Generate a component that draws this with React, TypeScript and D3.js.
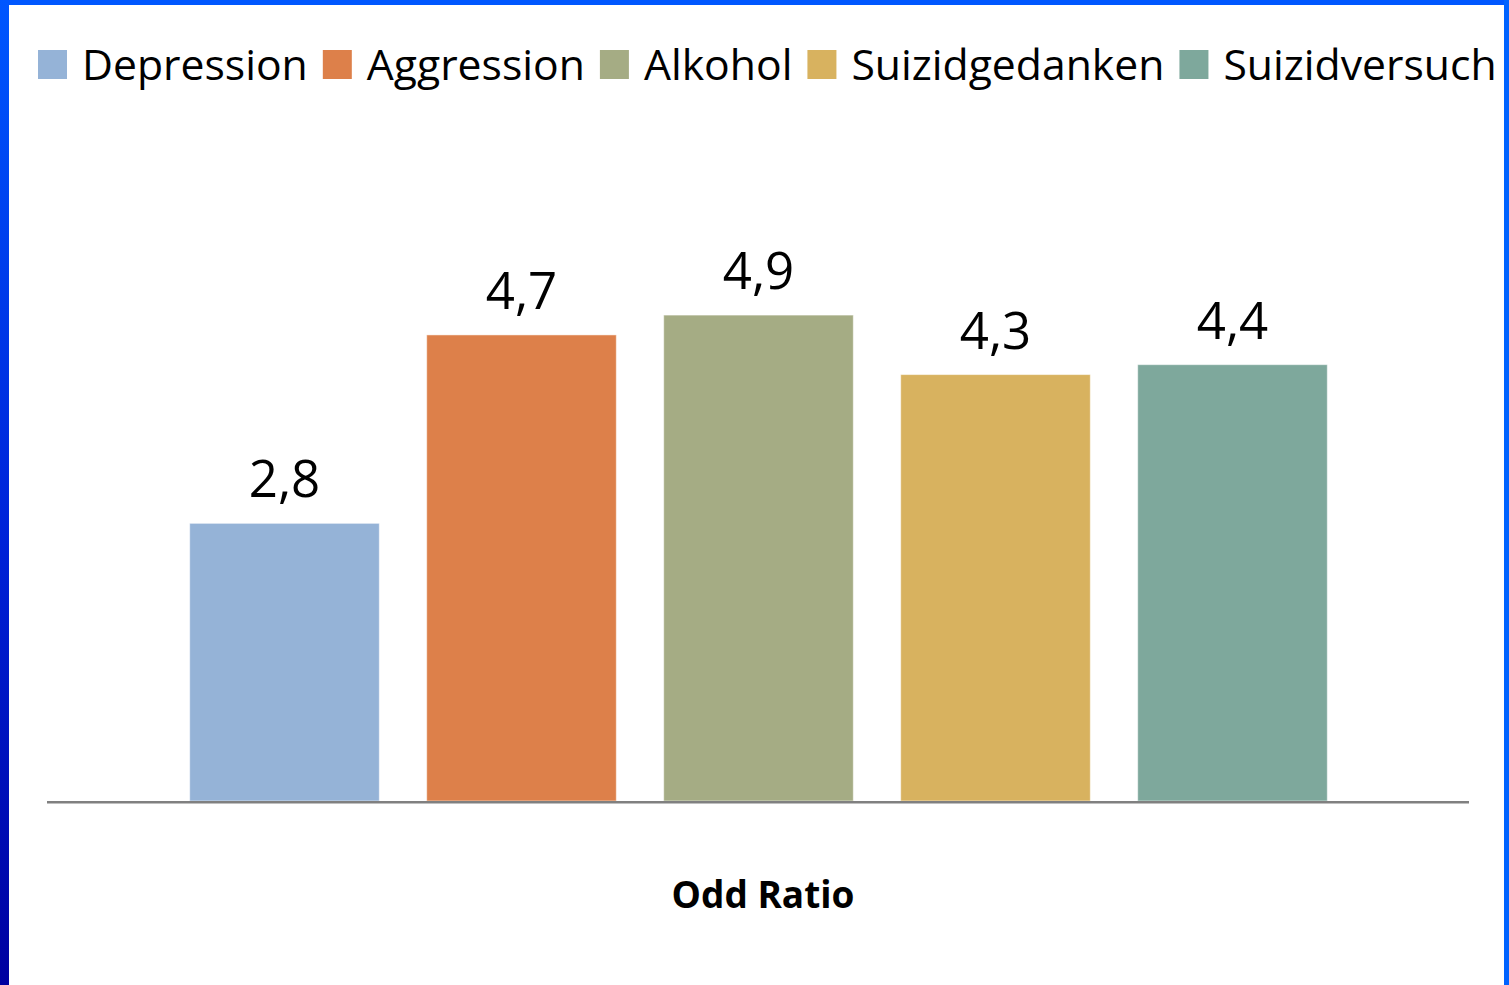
import React, { useRef, useEffect } from 'react';
import * as d3 from 'd3';

// Daten
const series = ['Depression', 'Aggression', 'Alkohol', 'Suizidgedanken', 'Suizidversuch'];
const values = [2.8, 4.7, 4.9, 4.3, 4.4];
const colors = ['#95b3d7', '#dd804a', '#a5ac84', '#d8b25f', '#7ea89c'];
const categoryLabel = 'Odd Ratio';

const W = 1509;
const H = 985;
const FONT = '"Open Sans", "Noto Sans", sans-serif';

const de = d3.formatLocale({ decimal: ',', thousands: '.', grouping: [3], currency: ['', ' €'] });
const fmt = de.format('.1f');

export default function App() {
  const svgRef = useRef<SVGSVGElement>(null);

  useEffect(() => {
    const svg = d3.select(svgRef.current);
    svg.selectAll('*').remove();

    // Rahmen (blauer Verlauf links)
    const defs = svg.append('defs');
    const grad = defs.append('linearGradient')
      .attr('id', 'leftEdge')
      .attr('x1', 0).attr('y1', 0).attr('x2', 0).attr('y2', 1);
    grad.append('stop').attr('offset', '0%').attr('stop-color', '#0057ff');
    grad.append('stop').attr('offset', '55%').attr('stop-color', '#0022d8');
    grad.append('stop').attr('offset', '100%').attr('stop-color', '#0000a0');

    svg.append('rect').attr('width', W).attr('height', H).attr('fill', '#ffffff');
    svg.append('rect').attr('x', 0).attr('y', 0).attr('width', W).attr('height', 5).attr('fill', '#0057ff');
    svg.append('rect').attr('x', W - 5).attr('y', 0).attr('width', 5).attr('height', H).attr('fill', '#0063ff');
    svg.append('rect').attr('x', 0).attr('y', 0).attr('width', 9).attr('height', H).attr('fill', 'url(#leftEdge)');

    const axisY = 801;
    const x = d3.scaleBand<string>()
      .domain(series)
      .range([166, 1351])
      .paddingInner(0.2)
      .paddingOuter(0.1);
    const y = d3.scaleLinear().domain([0, 6]).range([axisY, 206]);

    // Balken
    svg.selectAll('.bar')
      .data(series)
      .join('rect')
      .attr('class', 'bar')
      .attr('x', d => x(d)!)
      .attr('y', (d, i) => y(values[i]))
      .attr('width', x.bandwidth())
      .attr('height', (d, i) => axisY - y(values[i]))
      .attr('fill', (d, i) => colors[i])
      .attr('stroke', '#ffffff')
      .attr('stroke-opacity', 0.5)
      .attr('stroke-width', 1);

    // Werte
    svg.selectAll('.val')
      .data(series)
      .join('text')
      .attr('class', 'val')
      .attr('x', d => x(d)! + x.bandwidth() / 2)
      .attr('y', (d, i) => y(values[i]) - 26)
      .attr('text-anchor', 'middle')
      .attr('font-family', FONT)
      .attr('font-size', 51)
      .attr('fill', '#000')
      .text((d, i) => fmt(values[i]));

    // Achse
    svg.append('line')
      .attr('x1', 47).attr('x2', 1469)
      .attr('y1', axisY + 1.3).attr('y2', axisY + 1.3)
      .attr('stroke', '#808080')
      .attr('stroke-width', 2.6);

    svg.append('text')
      .attr('x', 763)
      .attr('y', 908)
      .attr('text-anchor', 'middle')
      .attr('font-family', FONT)
      .attr('font-weight', 'bold')
      .attr('font-size', 37)
      .attr('fill', '#000')
      .text(categoryLabel);

    // Legende
    const legend = svg.append('g');
    let lx = 38;
    series.forEach((s, i) => {
      legend.append('rect')
        .attr('x', lx).attr('y', 50)
        .attr('width', 29).attr('height', 29)
        .attr('fill', colors[i]);
      const t = legend.append('text')
        .attr('x', lx + 44)
        .attr('y', 80)
        .attr('font-family', FONT)
        .attr('font-size', 42.7)
        .attr('fill', '#000')
        .text(s);
      const len = (t.node() as SVGTextElement).getComputedTextLength();
      lx = lx + 44 + len + 15;
    });
  }, []);

  return (
    <div style={{ position: 'absolute', left: 0, top: 0 }}>
      <svg ref={svgRef} width={W} height={H} style={{ display: 'block' }}></svg>
    </div>
  );
}
